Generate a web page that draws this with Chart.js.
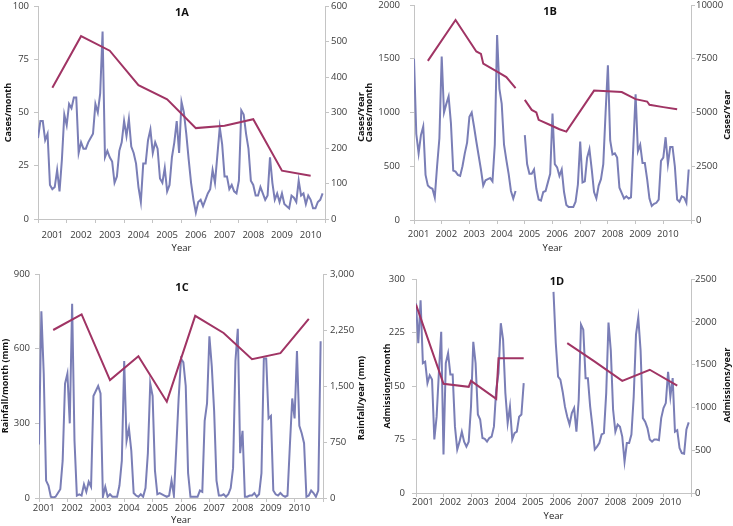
<!DOCTYPE html>
<html>
<head>
<meta charset="utf-8">
<script src="https://cdn.jsdelivr.net/npm/chart.js@4.4.1/dist/chart.umd.min.js"></script>
<style>
  body { margin: 0; background: #fff; }
  #wrap { position: relative; width: 733px; height: 526px; overflow: hidden; }
  canvas { position: absolute; }
  .panel-title { position: absolute; font: bold 11px 'Open Sans', sans-serif; color: #111; transform: translate(-50%, -50%); }
  .axis-title { position: absolute; font: bold 9px 'Open Sans', sans-serif; color: #111; white-space: nowrap;
                transform: translate(-50%, -50%) rotate(-90deg); }
</style>
</head>
<body>
<div id="wrap">
  <canvas id="chart-a" width="370" height="260" style="left:0px;top:0px"></canvas>
  <canvas id="chart-b" width="375" height="260" style="left:358px;top:0px"></canvas>
  <canvas id="chart-c" width="370" height="266" style="left:0px;top:260px"></canvas>
  <canvas id="chart-d" width="353" height="266" style="left:380px;top:260px"></canvas>
  <div class="panel-title" style="left:182px;top:11px">1A</div>
  <div class="panel-title" style="left:550px;top:10px">1B</div>
  <div class="panel-title" style="left:182px;top:286px">1C</div>
  <div class="panel-title" style="left:557px;top:280px">1D</div>
  <!-- right-hand axis titles read bottom-to-top like the left ones -->
  <div class="axis-title" style="left:360px;top:117px">Cases/Year</div>
  <div class="axis-title" style="left:726px;top:115px">Cases/Year</div>
  <div class="axis-title" style="left:360px;top:398px">Rainfall/year (mm)</div>
  <div class="axis-title" style="left:726px;top:385px">Admissions/year</div>
</div>
<script>
const years = ['2001', '2002', '2003', '2004', '2005', '2006', '2007', '2008', '2009', '2010'];

// 1A - cases per month / per year
const aMonthly = [38, 46, 46, 37, 40, 16, 14, 15, 23, 13, 28, 49,
  44, 54, 52, 57, 57, 31, 36, 33, 33, 36, 38, 40,
  54, 50, 59, 88, 29, 32, 29, 27, 17, 20, 32, 36,
  46, 39, 47, 34, 31, 26, 15, 8, 26, 26, 37, 42,
  31, 36, 33, 19, 17, 24, 13, 16, 29, 36, 46, 31,
  55, 50, 40, 28, 17, 9, 3, 8, 9, 6, 9, 12,
  14, 23, 17, 30, 43, 35, 20, 20, 14, 16, 13, 12,
  18, 51, 49, 40, 33, 18, 16, 11, 11, 15, 12, 9,
  11, 29, 17, 9, 12, 8, 12, 7, 6, 5, 11, 10,
  8, 18, 11, 12, 7, 11, 9, 5, 5, 8, 9, 12];
const aYearMonths = [6, 18, 30, 42, 54, 66, 78, 90, 102, 114];
const aYearly = [370, 515, 474, 377, 337, 256, 263, 281, 136, 122];

// 1B - cases per month / per year (gap late 2004)
const bMonthly = [1500, 800, 620, 790, 870, 420, 320, 300, 290, 210, 500, 760,
  1520, 1000, 1080, 1150, 900, 460, 450, 420, 410, 500, 620, 720,
  960, 1000, 870, 730, 600, 470, 320, 370, 380, 390, 360, 700,
  1720, 1220, 1080, 700, 560, 430, 270, 200, 270, null, null, null,
  790, 520, 430, 430, 470, 290, 190, 180, 260, 270, 350, 430,
  990, 520, 490, 410, 470, 260, 140, 120, 120, 120, 170, 330,
  730, 350, 360, 580, 660, 470, 260, 200, 320, 380, 520, 1000,
  1440, 740, 610, 620, 580, 300, 250, 200, 220, 200, 210, 680,
  1170, 640, 700, 530, 530, 380, 200, 130, 150, 160, 190, 550,
  580, 770, 520, 680, 680, 500, 190, 170, 220, 210, 160, 470];
const bAnnualMonths = [6, 18, 27, 29, 30, 36, 40, 44, 46, 48, 51, 53, 54, 59, 63, 66, 78, 90, 96, 101, 102, 108, 114];
const bAnnual = [7400, 9300, 7840, 7730, 7270, 6900, 6650, 6130, null, 5590, 5120, 5000, 4660, 4420, 4220, 4110, 6020, 5950, 5620, 5510, 5360, 5250, 5150];

// 1C - rainfall per month / per year
const cMonthly = [215, 750, 500, 70, 50, 5, 2, 5, 20, 35, 150, 460,
  500, 300, 780, 230, 10, 15, 10, 55, 25, 65, 45, 410,
  430, 450, 420, 5, 45, 5, 15, 5, 5, 5, 50, 150,
  550, 230, 280, 190, 20, 10, 5, 15, 5, 40, 180, 460,
  410, 110, 15, 20, 15, 10, 5, 10, 70, 10, 200, 400,
  560, 545, 450, 100, 5, 5, 5, 5, 30, 25, 310, 380,
  650, 530, 350, 70, 10, 10, 15, 5, 15, 40, 120, 550,
  680, 180, 270, 5, 5, 10, 10, 20, 5, 15, 100, 560,
  560, 320, 330, 30, 15, 10, 20, 10, 5, 10, 210, 400,
  320, 590, 290, 260, 220, 5, 10, 30, 20, 5, 30, 630];
const cYearMonths = [6, 18, 30, 42, 54, 66, 78, 90, 102, 114];
const cYearly = [2250, 2460, 1580, 1900, 1290, 2440, 2210, 1860, 1940, 2400];

// 1D - admissions per month / per year (no data 2005)
const dMonthly = [266, 210, 270, 182, 184, 154, 165, 159, 75, 107, 170, 226,
  54, 182, 196, 166, 166, 93, 61, 72, 86, 72, 65, 72,
  121, 212, 182, 110, 103, 77, 76, 72, 77, 79, 93, 145,
  168, 238, 215, 140, 98, 121, 75, 84, 86, 107, 110, 154,
  null, null, null, null, null, null, null, null, null, null, null, null,
  282, 210, 163, 159, 142, 121, 107, 96, 112, 119, 86, 131,
  236, 229, 161, 161, 121, 93, 61, 65, 70, 82, 84, 140,
  239, 200, 117, 86, 96, 93, 79, 44, 70, 70, 82, 135,
  222, 246, 200, 105, 100, 91, 75, 72, 75, 75, 74, 105,
  119, 126, 170, 135, 161, 86, 88, 63, 56, 55, 89, 99];
const dAnnualMonths = [0, 12, 23, 24, 35, 36, 47, 55, 66, 78, 90, 102, 114];
const dAnnual = [2200, 1275, 1240, 1310, 1100, 1575, 1575, null, 1750, 1535, 1310, 1440, 1255];

const monthColor = 'rgb(122,126,182)';
const yearColor = 'rgb(160,52,100)';
const axisColor = '#c4c4c4';

Chart.defaults.font.family = "'Open Sans', sans-serif";
Chart.defaults.font.size = 9.5;
Chart.defaults.color = '#3a3a3a';

function toPoints(xs, ys) {
    return xs.map((x, i) => ({ x: x, y: ys[i] }));
}

function buildPanel(id, p) {
    const titleFont = { size: 9, weight: 'bold' };
    return new Chart(document.getElementById(id), {
        type: 'line',
        data: {
            datasets: [
                { data: toPoints(p.yearX, p.yearY), yAxisID: 'y2', borderColor: yearColor, borderWidth: 2, pointRadius: 0 },
                { data: p.monthly.map((v, i) => ({ x: i, y: v })), yAxisID: 'y', borderColor: monthColor, borderWidth: 2, pointRadius: 0 }
            ]
        },
        options: {
            responsive: false,
            animation: false,
            layout: { padding: { top: p.top, left: 0, right: 0, bottom: 0 } },
            plugins: { legend: { display: false }, tooltip: { enabled: false } },
            scales: {
                x: {
                    type: 'linear', min: 0, max: 120,
                    afterBuildTicks: scale => {
                        const t = [];
                        for (let m = 0; m <= 120; m += 12) t.push({ value: m });
                        years.forEach((y, k) => t.push({ value: 12 * k + p.labelShift }));
                        scale.ticks = t;
                    },
                    afterFit: s => { s.height = p.xHeight; s.paddingLeft = 0; s.paddingRight = 0; },
                    ticks: {
                        autoSkip: false, maxRotation: 0, padding: p.xPad,
                        callback: v => v % 12 === 0 ? '' : years[Math.floor(v / 12)]
                    },
                    grid: {
                        drawOnChartArea: false, tickLength: 4,
                        color: c => (c.tick && c.tick.value % 12 === 0) ? axisColor : 'rgba(0,0,0,0)'
                    },
                    border: { color: axisColor },
                    title: { display: true, text: 'Year', color: '#222', padding: { top: 0, bottom: p.yearPad } }
                },
                y: {
                    position: 'left', min: 0, max: p.leftMax,
                    afterFit: s => { s.width = p.leftW; s.paddingTop = 0; s.paddingBottom = 0; },
                    ticks: { stepSize: p.leftStep, padding: p.leftPad, callback: v => String(v) },
                    grid: { drawOnChartArea: false, tickLength: 4, color: axisColor },
                    border: { color: axisColor },
                    title: { display: true, text: p.leftTitle, font: titleFont, color: '#111', padding: { top: p.leftTitlePad, bottom: 0 } }
                },
                y2: {
                    position: 'right', min: 0, max: p.rightMax,
                    afterFit: s => { s.width = p.rightW; s.paddingTop = 0; s.paddingBottom = 0; },
                    ticks: { stepSize: p.rightStep, padding: p.rightPad, callback: p.rightFormat || (v => String(v)) },
                    grid: { drawOnChartArea: false, tickLength: 4, color: axisColor },
                    border: { color: axisColor }
                }
            }
        }
    });
}

buildPanel('chart-a', {
    monthly: aMonthly, yearX: aYearMonths, yearY: aYearly,
    top: 6, xHeight: 41, leftW: 38, rightW: 45, labelShift: 6, xPad: 7, yearPad: 6,
    leftMax: 100, leftStep: 25, leftPad: 5, leftTitle: 'Cases/month', leftTitlePad: 3,
    rightMax: 600, rightStep: 100, rightPad: 2
});

buildPanel('chart-b', {
    monthly: bMonthly, yearX: bAnnualMonths, yearY: bAnnual,
    top: 5, xHeight: 40, leftW: 56, rightW: 42, labelShift: 2, xPad: 5, yearPad: 6,
    leftMax: 2000, leftStep: 500, leftPad: 10, leftTitle: 'Cases/month', leftTitlePad: 6,
    rightMax: 10000, rightStep: 2500, rightPad: 1
});

buildPanel('chart-c', {
    monthly: cMonthly, yearX: cYearMonths, yearY: cYearly,
    top: 14, xHeight: 28, leftW: 39, rightW: 47, labelShift: 2, xPad: 1, yearPad: 0,
    leftMax: 900, leftStep: 300, leftPad: 5, leftTitle: 'Rainfall/month (mm)', leftTitlePad: 0,
    rightMax: 3000, rightStep: 750, rightPad: 3,
    rightFormat: v => v.toLocaleString('en-US')
});

buildPanel('chart-d', {
    monthly: dMonthly, yearX: dAnnualMonths, yearY: dAnnual,
    top: 19, xHeight: 33, leftW: 36, rightW: 42, labelShift: 3, xPad: 0, yearPad: 4,
    leftMax: 300, leftStep: 75, leftPad: 7, leftTitle: 'Admissions/month', leftTitlePad: 2,
    rightMax: 2500, rightStep: 500, rightPad: 0
});
</script>
</body>
</html>
